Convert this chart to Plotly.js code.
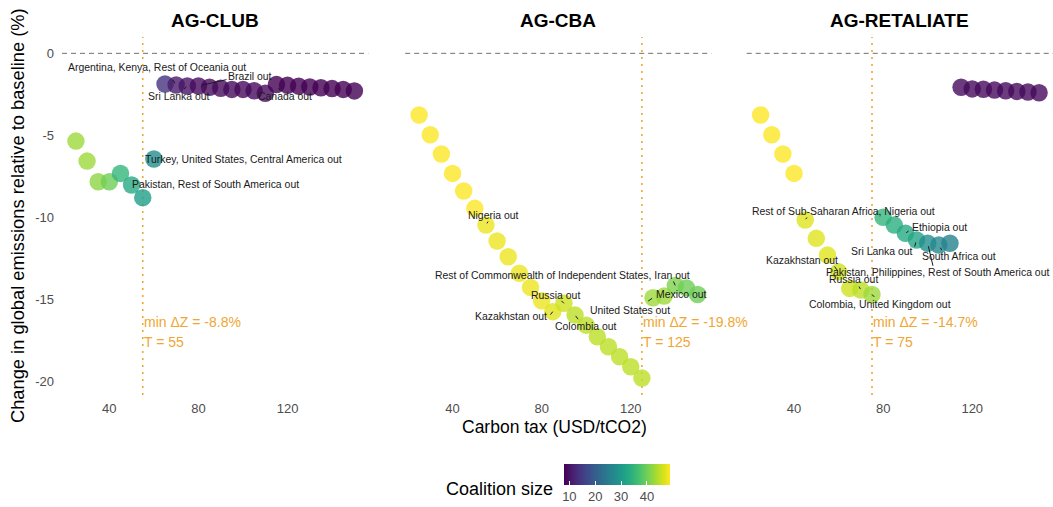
<!DOCTYPE html>
<html>
<head>
<meta charset="utf-8">
<script src="https://cdn.plot.ly/plotly-3.0.1.min.js"></script>
<style>
  html, body { margin: 0; padding: 0; background: #ffffff; }
  #chart { width: 1053px; height: 507px; }
</style>
</head>
<body>
<div id="chart"></div>
<script>
// Carbon tax levels (USD/tCO2) shared by every scenario
const carbonTax = [25, 30, 35, 40, 45, 50, 55, 60, 65, 70, 75, 80, 85, 90, 95, 100,
                   105, 110, 115, 120, 125, 130, 135, 140, 145, 150];

// Change in global emissions relative to baseline (%), per scenario
const clubEmissions = [-5.35, -6.57, -7.83, -7.83, -7.32, -8.03, -8.8, -6.44, -1.87, -1.93,
                       -1.99, -1.99, -2.07, -2.13, -2.2, -2.2, -2.28, -2.44, -1.9, -1.95,
                       -2.0, -2.05, -2.1, -2.15, -2.2, -2.29];
const cbaEmissions = [-3.76, -4.96, -6.14, -7.32, -8.39, -9.45, -10.47, -11.44, -12.4, -13.41,
                      -14.27, -15.08, -15.75, -15.24, -15.96, -16.57, -17.28, -17.89, -18.5, -19.11,
                      -19.8, -14.9, -14.8, -14.15, -14.3, -14.7];
const retaliateEmissions = [-3.76, -4.96, -6.14, -7.32, -10.16, -11.28, -12.3, -13.32, -14.33, -14.43,
                            -14.7, -10.0, -10.47, -10.97, -11.38, -11.58, -11.69, -11.58, -2.07, -2.17,
                            -2.19, -2.24, -2.28, -2.32, -2.36, -2.4];

// Number of regions remaining in the coalition, per scenario
const clubCoalition = [43, 43, 42, 40, 35, 33, 31, 28, 14, 11, 10, 9, 9, 9, 9, 9,
                       9, 9, 8, 8, 8, 8, 8, 8, 8, 8];
const cbaCoalition = [49, 49, 49, 49, 49, 49, 48, 48, 48, 48, 48, 48, 47, 46, 45, 45,
                      45, 45, 45, 45, 45, 43, 43, 41, 40, 40];
const retaliateCoalition = [49, 49, 49, 49, 47, 47, 47, 46, 46, 45, 43, 35, 34, 33, 32, 28,
                            27, 26, 9, 9, 9, 9, 9, 9, 9, 9];

const panelTitles = ['AG-CLUB', 'AG-CBA', 'AG-RETALIATE'];
const xTickValues = [40, 80, 120];
const yTickValues = [0, -5, -10, -15, -20];
const yTickLabels = ['0', '-5', '-10', '-15', '-20'];
const coalitionTicks = [10, 20, 30, 40];

// Regions leaving the coalition: panel index, tax level, label
const exitPanel = [0, 0, 0, 0, 0, 0,
                   1, 1, 1, 1, 1, 1, 1,
                   2, 2, 2, 2, 2, 2, 2, 2];
const exitTax = [70, 80, 75, 115, 60, 55,
                 55, 140, 90, 85, 95, 130, 145,
                 45, 90, 95, 105, 100, 60, 70, 75];
const exitText = [
  'Argentina, Kenya, Rest of Oceania out', 'Brazil out', 'Sri Lanka out', 'Canada out',
  'Turkey, United States, Central America out', 'Pakistan, Rest of South America out',
  'Nigeria out', 'Rest of Commonwealth of Independent States, Iran out', 'Russia out',
  'Kazakhstan out', 'Colombia out', 'United States out', 'Mexico out',
  'Rest of Sub-Saharan Africa, Nigeria out', 'Ethiopia out', 'Sri Lanka out', 'South Africa out',
  'Pakistan, Philippines, Rest of South America out', 'Kazakhstan out', 'Russia out',
  'Colombia, United Kingdom out'
];

// Repelled label placement, in pixels relative to the labelled point:
// [text dx, text dy, leader tail dx, leader tail dy, leader standoff] (null = no leader)
const labelPlacement = [
  [-19.5, -17.7, -4.5, -6.7, 2],
  [51.6, -9.3, 29.6, -6.7, 3.5],
  [-8.3, 10.7, -4.8, 4.5, 1],
  [8.6, 11.5, 4.6, 7.5, 4],
  [89.9, 1, null, null, 0],
  [72.3, -12.7, null, null, 0],
  [7.4, -9.3, 3.0, -5.0, 2],
  [-113.1, -10.4, -2.6, -5.4, 0],
  [-8.6, -8.3, -4.0, -4.0, 0],
  [-42.1, 5.1, -3.5, 4.4, 0],
  [11.1, 11.6, 4.2, 5.6, 1],
  [-23.0, 12.3, -6.3, 4.3, 1],
  [-4.7, 6.4, null, null, 0],
  [38.1, -8.3, 2.8, -4.0, 1],
  [34.1, -5.5, 4.6, -3.2, 1],
  [-34.8, 11.0, -2.3, 8.0, 2.5],
  [20.0, 11.6, 3.9, 6.6, 3],
  [9.5, 29.4, 5.6, 24.0, 3],
  [-36.1, -11.8, -5.3, -6.8, 1],
  [-7.6, -10.7, -2.6, -5.0, 1],
  [8.2, 9.9, 3.7, 3.9, 0]
];

const W = 1053, H = 507;
const FONT = 'Liberation Sans, Arial, Helvetica, sans-serif';
const ORANGE = '#F0A632';
const emissions = [clubEmissions, cbaEmissions, retaliateEmissions];
const coalition = [clubCoalition, cbaCoalition, retaliateCoalition];
const xDomainsPx = [[62, 368.3], [405.2, 711.5], [746.7, 1053]];
const yDomain = [1 - 395 / H, 1 - 37.1 / H];
const xRange = [18.75, 156.25];
const yRange = [-20.83, 0.99];

const axisSuffix = i => (i === 0 ? '' : String(i + 1));

const traces = emissions.map((ys, i) => ({
  type: 'scatter',
  mode: 'markers',
  x: carbonTax,
  y: ys,
  xaxis: 'x' + axisSuffix(i),
  yaxis: 'y' + axisSuffix(i),
  showlegend: false,
  hoverinfo: 'x+y',
  marker: {
    size: 17.5,
    opacity: 0.8,
    color: coalition[i],
    coloraxis: 'coloraxis',
    line: { width: 0 }
  }
}));

const shapes = [];
const annotations = [];

emissions.forEach((ys, i) => {
  const xr = 'x' + axisSuffix(i);
  const yr = 'y' + axisSuffix(i);
  // baseline
  shapes.push({
    type: 'line', xref: xr + ' domain', yref: yr, x0: 0, x1: 1, y0: 0, y1: 0,
    line: { color: '#707070', width: 1, dash: '5px,4px' }, layer: 'below'
  });
  // tax at the lowest emissions
  let k = 0;
  ys.forEach((v, j) => { if (v < ys[k]) k = j; });
  const tBest = carbonTax[k];
  shapes.push({
    type: 'line', xref: xr, yref: yr + ' domain', x0: tBest, x1: tBest, y0: 0, y1: 1,
    line: { color: ORANGE, width: 1.6, dash: '2px,5px' }, layer: 'below'
  });
  annotations.push({
    xref: xr, yref: yr, x: tBest, y: -16.36, xanchor: 'left', yanchor: 'middle',
    text: 'min \u0394Z = ' + ys[k].toFixed(1) + '%', showarrow: false, borderpad: 0,
    font: { family: FONT, size: 14, color: ORANGE }
  });
  annotations.push({
    xref: xr, yref: yr, x: tBest, y: -17.58, xanchor: 'left', yanchor: 'middle',
    text: 'T = ' + tBest, showarrow: false, borderpad: 0,
    font: { family: FONT, size: 14, color: ORANGE }
  });
  // facet strip title
  annotations.push({
    xref: xr + ' domain', yref: 'paper', x: 0.5, y: 1 - 20.7 / H,
    xanchor: 'center', yanchor: 'middle', showarrow: false,
    text: '<b>' + panelTitles[i] + '</b>',
    font: { family: FONT, size: 19, color: '#000000' }
  });
});

// exit labels with short leader segments
exitText.forEach((txt, n) => {
  const p = exitPanel[n];
  const idx = carbonTax.indexOf(exitTax[n]);
  const px = exitTax[n];
  const py = emissions[p][idx];
  const xr = 'x' + axisSuffix(p);
  const yr = 'y' + axisSuffix(p);
  const [dx, dy, tx, ty, so] = labelPlacement[n];
  if (tx !== null) {
    annotations.push({
      xref: xr, yref: yr, x: px, y: py, text: '', showarrow: true,
      ax: tx, ay: ty, arrowhead: 0, arrowwidth: 1, arrowcolor: '#1a1a1a',
      standoff: so, startstandoff: 0
    });
  }
  annotations.push({
    xref: xr, yref: yr, x: px, y: py, xshift: dx, yshift: -dy,
    xanchor: 'center', yanchor: 'middle', showarrow: false, text: txt,
    font: { family: FONT, size: 10.45, color: '#1a1a1a' }
  });
});

// axis titles and colour legend title
annotations.push({
  xref: 'paper', yref: 'paper', x: 18 / W, y: 1 - 216 / H, textangle: -90,
  xanchor: 'center', yanchor: 'middle', showarrow: false,
  text: 'Change in global emissions relative to baseline (%)',
  font: { family: FONT, size: 18.3, color: '#000000' }
});
annotations.push({
  xref: 'paper', yref: 'paper', x: 554 / W, y: 1 - 427 / H,
  xanchor: 'center', yanchor: 'middle', showarrow: false,
  text: 'Carbon tax (USD/tCO2)',
  font: { family: FONT, size: 17.5, color: '#000000' }
});
annotations.push({
  xref: 'paper', yref: 'paper', x: 499.5 / W, y: 1 - 489.3 / H,
  xanchor: 'center', yanchor: 'middle', showarrow: false,
  text: 'Coalition size',
  font: { family: FONT, size: 18, color: '#000000' }
});

const layout = {
  width: W, height: H,
  margin: { l: 0, r: 0, t: 0, b: 0, autoexpand: false },
  paper_bgcolor: '#ffffff',
  plot_bgcolor: '#ffffff',
  font: { family: FONT, size: 13, color: '#4d4d4d' },
  showlegend: false,
  shapes: shapes,
  annotations: annotations,
  coloraxis: {
    colorscale: 'Viridis',
    cmin: 8, cmax: 49,
    colorbar: {
      orientation: 'h',
      lenmode: 'pixels', len: 106,
      thickness: 21,
      x: 617.2 / W, xanchor: 'center',
      y: 1 - 464 / H, yanchor: 'top',
      xpad: 0, ypad: 0,
      outlinewidth: 0,
      tickvals: coalitionTicks,
      ticks: 'inside', ticklen: 4, tickcolor: '#ffffff', tickwidth: 1,
      tickfont: { family: FONT, size: 13, color: '#4d4d4d' },
      title: { text: '' }
    }
  }
};

xDomainsPx.forEach((d, i) => {
  const s = axisSuffix(i);
  layout['xaxis' + s] = {
    domain: [d[0] / W, Math.min(d[1] / W, 1)],
    range: xRange,
    anchor: 'y' + s,
    tickvals: xTickValues,
    showgrid: false, zeroline: false, showline: false,
    ticks: '', ticklabelstandoff: 4,
    tickfont: { family: FONT, size: 13, color: '#4d4d4d' },
    fixedrange: true
  };
  layout['yaxis' + s] = {
    domain: yDomain,
    range: yRange,
    anchor: 'x' + s,
    tickvals: yTickValues,
    ticktext: yTickLabels,
    showticklabels: i === 0,
    showgrid: false, zeroline: false, showline: false,
    ticks: '', ticklabelstandoff: 7,
    tickfont: { family: FONT, size: 13, color: '#4d4d4d' },
    fixedrange: true
  };
});

Plotly.newPlot('chart', traces, layout, { displayModeBar: false, staticPlot: true });
</script>
</body>
</html>
